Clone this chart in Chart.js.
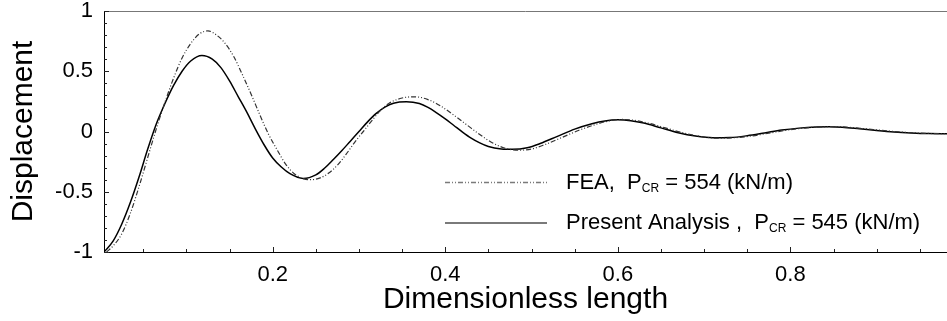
<!DOCTYPE html>
<html>
<head>
<meta charset="utf-8">
<script src="https://cdn.jsdelivr.net/npm/chart.js@4/dist/chart.umd.min.js"></script>
<style>
  html, body { margin: 0; padding: 0; background: #fff; }
  canvas { display: block; }
</style>
</head>
<body>
<canvas id="chart" width="947" height="321"></canvas>
<script>
// Present analysis: buckled shape along the member
const presentX = [0.0045,0.015,0.025,0.035,0.045,0.055,0.065,0.075,0.085,0.095,
  0.105,0.118,0.13,0.14,0.15,0.16,0.17,0.18,0.19,0.20,
  0.21,0.22,0.2355,0.25,0.26,0.27,0.28,0.29,0.30,0.31,
  0.32,0.33,0.34,0.355,0.37,0.38,0.39,0.40,0.41,0.42,
  0.43,0.44,0.45,0.465,0.478,0.495,0.51,0.53,0.55,0.57,
  0.585,0.60,0.615,0.63,0.65,0.67,0.69,0.71,0.73,0.75,
  0.77,0.79,0.81,0.83,0.845,0.86,0.88,0.90,0.92,0.94,
  0.96,0.9815];
const presentY = [-1.0,-0.91,-0.77,-0.59,-0.38,-0.15,0.06,0.23,0.38,0.50,
  0.585,0.63,0.60,0.53,0.42,0.29,0.16,0.02,-0.11,-0.22,
  -0.295,-0.35,-0.39,-0.36,-0.305,-0.235,-0.16,-0.08,0.0,0.08,
  0.15,0.203,0.235,0.247,0.232,0.20,0.155,0.105,0.05,-0.005,
  -0.055,-0.095,-0.125,-0.145,-0.148,-0.135,-0.10,-0.04,0.02,0.065,
  0.088,0.097,0.09,0.07,0.03,-0.01,-0.038,-0.052,-0.05,-0.035,
  -0.012,0.012,0.028,0.037,0.039,0.035,0.022,0.008,-0.004,-0.012,
  -0.017,-0.018];

// Finite element solution
const feaX = [0.0075,0.015,0.025,0.035,0.045,0.055,0.065,0.075,0.085,0.095,
  0.105,0.115,0.125,0.135,0.145,0.155,0.165,0.175,0.185,0.195,
  0.205,0.215,0.225,0.235,0.245,0.255,0.265,0.275,0.285,0.295,
  0.305,0.315,0.325,0.335,0.35,0.365,0.38,0.395,0.41,0.425,
  0.44,0.455,0.47,0.485,0.50,0.515,0.535,0.555,0.575,0.59,
  0.605,0.62,0.635,0.655,0.675,0.695,0.715,0.735,0.755,0.775,
  0.795,0.815,0.835,0.85,0.865,0.885,0.905,0.925,0.945,0.965,
  0.9815];
const feaY = [-1.0,-0.95,-0.85,-0.68,-0.46,-0.22,0.02,0.24,0.44,0.61,
  0.73,0.81,0.835,0.80,0.73,0.62,0.47,0.31,0.14,-0.02,
  -0.15,-0.27,-0.35,-0.39,-0.40,-0.385,-0.345,-0.28,-0.19,-0.09,
  0.0,0.09,0.175,0.235,0.278,0.288,0.265,0.21,0.135,0.055,
  -0.025,-0.095,-0.14,-0.155,-0.145,-0.11,-0.05,0.01,0.06,0.088,
  0.10,0.092,0.07,0.03,-0.01,-0.04,-0.055,-0.052,-0.037,-0.014,
  0.01,0.028,0.038,0.04,0.036,0.024,0.01,-0.003,-0.012,-0.017,
  -0.018];

const xTickValues = [0.2, 0.4, 0.6, 0.8];
const xTickLabels = ['0.2', '0.4', '0.6', '0.8'];
const yTickValues = [-1, -0.5, 0, 0.5, 1];
const yTickLabels = ['-1', '-0.5', '0', '0.5', '1'];
const xRange = [0.0045, 0.9815];
const yRange = [-1, 1];

const seriesNames = ['FEA,', 'Present Analysis ,'];
const criticalLoads = ['554', '545'];

const FONT = '"Liberation Sans", Arial, Helvetica, sans-serif';
const FEA_DASH = [5, 2, 1, 2, 1, 2];

const toPoints = (xs, ys) => xs.map((x, i) => ({ x, y: ys[i] }));

// Inward tick marks and the light frame line on top
const frameTicks = {
  id: 'frameTicks',
  afterDatasetsDraw(chart) {
    const { ctx, chartArea: a, scales: { x, y } } = chart;
    ctx.save();
    ctx.strokeStyle = '#777';
    ctx.lineWidth = 1;
    ctx.beginPath();
    ctx.moveTo(a.left, a.top + 0.5);
    ctx.lineTo(a.right, a.top + 0.5);
    ctx.stroke();

    ctx.strokeStyle = '#222';
    ctx.beginPath();
    for (let k = 1; k * 0.05 < xRange[1]; k++) {
      const px = Math.round(x.getPixelForValue(k * 0.05)) + 0.5;
      const len = (k % 4 === 0) ? 5 : 3;
      ctx.moveTo(px, a.bottom);
      ctx.lineTo(px, a.bottom - len);
    }
    for (let k = -10; k <= 10; k++) {
      const py = Math.round(y.getPixelForValue(k / 10)) + 0.5;
      const len = (k % 5 === 0) ? 5 : 3;
      ctx.moveTo(a.left, py);
      ctx.lineTo(a.left + len, py);
    }
    ctx.stroke();
    ctx.restore();
  }
};

// Legend with subscripted critical load labels
const loadLegend = {
  id: 'loadLegend',
  afterDraw(chart) {
    const { ctx } = chart;
    const lineX0 = 445, lineX1 = 547, textX = 566;
    const rowsY = [182.5, 223];
    ctx.save();
    rowsY.forEach((ry, i) => {
      ctx.beginPath();
      ctx.strokeStyle = '#7a7a7a';
      ctx.lineWidth = i === 0 ? 1.5 : 2;
      ctx.setLineDash(i === 0 ? FEA_DASH : []);
      ctx.moveTo(lineX0, ry);
      ctx.lineTo(lineX1, ry);
      ctx.stroke();
      ctx.setLineDash([]);

      ctx.fillStyle = '#000';
      ctx.textBaseline = 'middle';
      ctx.textAlign = 'left';
      ctx.font = '22px ' + FONT;
      let cx = textX;
      const head = seriesNames[i] + '  P';
      ctx.fillText(head, cx, ry);
      cx += ctx.measureText(head).width;
      ctx.font = '12px ' + FONT;
      ctx.fillText('CR', cx, ry + 6);
      cx += ctx.measureText('CR').width;
      ctx.font = '22px ' + FONT;
      ctx.fillText(' = ' + criticalLoads[i] + ' (kN/m)', cx, ry);
    });
    ctx.restore();
  }
};

new Chart(document.getElementById('chart'), {
  type: 'line',
  data: {
    datasets: [
      {
        label: 'FEA',
        data: toPoints(feaX, feaY),
        borderColor: '#333',
        borderWidth: 1.2,
        borderDash: FEA_DASH,
        pointRadius: 0,
        cubicInterpolationMode: 'monotone',
        fill: false
      },
      {
        label: 'Present Analysis',
        data: toPoints(presentX, presentY),
        borderColor: '#000',
        borderWidth: 1.5,
        pointRadius: 0,
        cubicInterpolationMode: 'monotone',
        fill: false
      }
    ]
  },
  options: {
    responsive: false,
    animation: false,
    devicePixelRatio: 1,
    layout: { padding: { top: 11, right: 0, bottom: 0, left: 0 } },
    plugins: { legend: { display: false }, tooltip: { enabled: false } },
    scales: {
      x: {
        type: 'linear',
        position: 'bottom',
        min: xRange[0],
        max: xRange[1],
        afterBuildTicks: s => { s.ticks = xTickValues.map(v => ({ value: v })); },
        afterFit: s => { s.height = 69; s.paddingLeft = 0; s.paddingRight = 0; },
        grid: { display: false, drawTicks: false },
        border: { display: true, color: '#000', width: 1 },
        ticks: { color: '#000', font: { family: FONT, size: 22 }, padding: 10, maxRotation: 0, autoSkip: false,
                 callback: (v, i) => xTickLabels[i] },
        title: { display: true, text: 'Dimensionless length', color: '#000',
                 font: { family: FONT, size: 30 }, padding: { top: 0, bottom: 3 } }
      },
      y: {
        type: 'linear',
        min: yRange[0],
        max: yRange[1],
        afterBuildTicks: s => { s.ticks = yTickValues.map(v => ({ value: v })); },
        afterFit: s => { s.width = 104; s.paddingTop = 0; s.paddingBottom = 0; },
        grid: { display: false, drawTicks: false },
        border: { display: true, color: '#000', width: 1 },
        ticks: { color: '#000', font: { family: FONT, size: 22 }, padding: 11,
                 callback: (v, i) => yTickLabels[i] },
        title: { display: true, text: 'Displacement', color: '#000',
                 font: { family: FONT, size: 30 }, padding: { top: 6, bottom: 0 } }
      }
    }
  },
  plugins: [frameTicks, loadLegend]
});
</script>
</body>
</html>
